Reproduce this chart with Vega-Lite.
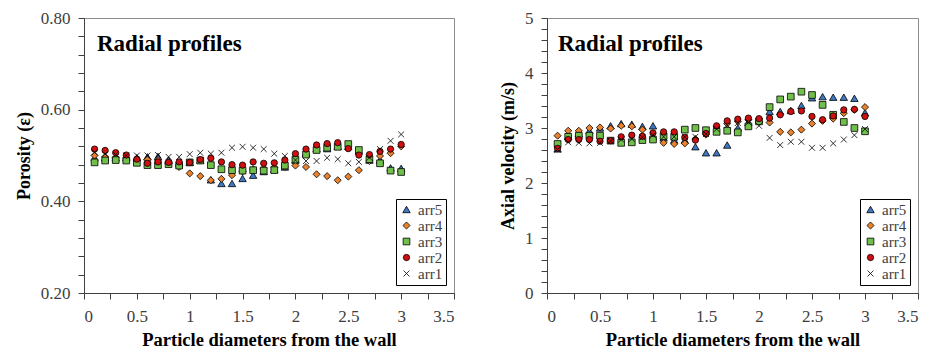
{
"$schema": "https://vega.github.io/schema/vega-lite/v6.json",
"background": "white",
"padding": {"left": 14, "top": 8, "right": 5, "bottom": 5},
"bounds": "flush",
"spacing": 93,
"resolve": {"scale": {"fill": "independent", "shape": "independent", "size": "independent", "strokeWidth": "independent", "stroke": "independent"}, "legend": {"fill": "independent", "shape": "independent", "size": "independent", "strokeWidth": "independent", "stroke": "independent"}},
"datasets": {
"porosity": [
{"x":0.1,"s":"arr5","v":0.495},{"x":0.2,"s":"arr5","v":0.495},{"x":0.3,"s":"arr5","v":0.495},{"x":0.4,"s":"arr5","v":0.495},{"x":0.5,"s":"arr5","v":0.495},{"x":0.6,"s":"arr5","v":0.497},{"x":0.7,"s":"arr5","v":0.498},{"x":0.8,"s":"arr5","v":0.49},{"x":0.9,"s":"arr5","v":0.485},{"x":1.0,"s":"arr5","v":0.485},{"x":1.1,"s":"arr5","v":0.49},{"x":1.2,"s":"arr5","v":0.447},{"x":1.3,"s":"arr5","v":0.439},{"x":1.4,"s":"arr5","v":0.439},{"x":1.5,"s":"arr5","v":0.45},{"x":1.6,"s":"arr5","v":0.457},{"x":1.7,"s":"arr5","v":0.465},{"x":1.8,"s":"arr5","v":0.47},{"x":1.9,"s":"arr5","v":0.475},{"x":2.0,"s":"arr5","v":0.49},{"x":2.1,"s":"arr5","v":0.505},{"x":2.2,"s":"arr5","v":0.515},{"x":2.3,"s":"arr5","v":0.515},{"x":2.4,"s":"arr5","v":0.52},{"x":2.5,"s":"arr5","v":0.52},{"x":2.6,"s":"arr5","v":0.51},{"x":2.7,"s":"arr5","v":0.49},{"x":2.8,"s":"arr5","v":0.49},{"x":2.9,"s":"arr5","v":0.473},{"x":3.0,"s":"arr5","v":0.472},
{"x":0.1,"s":"arr4","v":0.5},{"x":0.2,"s":"arr4","v":0.497},{"x":0.3,"s":"arr4","v":0.495},{"x":0.4,"s":"arr4","v":0.492},{"x":0.5,"s":"arr4","v":0.49},{"x":0.6,"s":"arr4","v":0.491},{"x":0.7,"s":"arr4","v":0.49},{"x":0.8,"s":"arr4","v":0.482},{"x":0.9,"s":"arr4","v":0.475},{"x":1.0,"s":"arr4","v":0.461},{"x":1.1,"s":"arr4","v":0.455},{"x":1.2,"s":"arr4","v":0.446},{"x":1.3,"s":"arr4","v":0.449},{"x":1.4,"s":"arr4","v":0.457},{"x":1.5,"s":"arr4","v":0.465},{"x":1.6,"s":"arr4","v":0.47},{"x":1.7,"s":"arr4","v":0.472},{"x":1.8,"s":"arr4","v":0.474},{"x":1.9,"s":"arr4","v":0.475},{"x":2.0,"s":"arr4","v":0.478},{"x":2.1,"s":"arr4","v":0.475},{"x":2.2,"s":"arr4","v":0.459},{"x":2.3,"s":"arr4","v":0.455},{"x":2.4,"s":"arr4","v":0.446},{"x":2.5,"s":"arr4","v":0.454},{"x":2.6,"s":"arr4","v":0.468},{"x":2.7,"s":"arr4","v":0.488},{"x":2.8,"s":"arr4","v":0.499},{"x":2.9,"s":"arr4","v":0.505},{"x":3.0,"s":"arr4","v":0.52},
{"x":0.1,"s":"arr3","v":0.485},{"x":0.2,"s":"arr3","v":0.489},{"x":0.3,"s":"arr3","v":0.49},{"x":0.4,"s":"arr3","v":0.489},{"x":0.5,"s":"arr3","v":0.484},{"x":0.6,"s":"arr3","v":0.479},{"x":0.7,"s":"arr3","v":0.479},{"x":0.8,"s":"arr3","v":0.481},{"x":0.9,"s":"arr3","v":0.478},{"x":1.0,"s":"arr3","v":0.485},{"x":1.1,"s":"arr3","v":0.489},{"x":1.2,"s":"arr3","v":0.479},{"x":1.3,"s":"arr3","v":0.47},{"x":1.4,"s":"arr3","v":0.468},{"x":1.5,"s":"arr3","v":0.467},{"x":1.6,"s":"arr3","v":0.468},{"x":1.7,"s":"arr3","v":0.467},{"x":1.8,"s":"arr3","v":0.468},{"x":1.9,"s":"arr3","v":0.478},{"x":2.0,"s":"arr3","v":0.491},{"x":2.1,"s":"arr3","v":0.502},{"x":2.2,"s":"arr3","v":0.512},{"x":2.3,"s":"arr3","v":0.517},{"x":2.4,"s":"arr3","v":0.519},{"x":2.5,"s":"arr3","v":0.525},{"x":2.6,"s":"arr3","v":0.512},{"x":2.7,"s":"arr3","v":0.492},{"x":2.8,"s":"arr3","v":0.483},{"x":2.9,"s":"arr3","v":0.467},{"x":3.0,"s":"arr3","v":0.464},
{"x":0.1,"s":"arr2","v":0.514},{"x":0.2,"s":"arr2","v":0.511},{"x":0.3,"s":"arr2","v":0.506},{"x":0.4,"s":"arr2","v":0.501},{"x":0.5,"s":"arr2","v":0.492},{"x":0.6,"s":"arr2","v":0.483},{"x":0.7,"s":"arr2","v":0.486},{"x":0.8,"s":"arr2","v":0.485},{"x":0.9,"s":"arr2","v":0.486},{"x":1.0,"s":"arr2","v":0.485},{"x":1.1,"s":"arr2","v":0.491},{"x":1.2,"s":"arr2","v":0.494},{"x":1.3,"s":"arr2","v":0.486},{"x":1.4,"s":"arr2","v":0.48},{"x":1.5,"s":"arr2","v":0.479},{"x":1.6,"s":"arr2","v":0.486},{"x":1.7,"s":"arr2","v":0.483},{"x":1.8,"s":"arr2","v":0.484},{"x":1.9,"s":"arr2","v":0.49},{"x":2.0,"s":"arr2","v":0.504},{"x":2.1,"s":"arr2","v":0.514},{"x":2.2,"s":"arr2","v":0.523},{"x":2.3,"s":"arr2","v":0.526},{"x":2.4,"s":"arr2","v":0.528},{"x":2.5,"s":"arr2","v":0.515},{"x":2.6,"s":"arr2","v":0.501},{"x":2.7,"s":"arr2","v":0.502},{"x":2.8,"s":"arr2","v":0.509},{"x":2.9,"s":"arr2","v":0.514},{"x":3.0,"s":"arr2","v":0.524},
{"x":0.1,"s":"arr1","v":0.507},{"x":0.2,"s":"arr1","v":0.503},{"x":0.3,"s":"arr1","v":0.502},{"x":0.4,"s":"arr1","v":0.5},{"x":0.5,"s":"arr1","v":0.5},{"x":0.6,"s":"arr1","v":0.5},{"x":0.7,"s":"arr1","v":0.501},{"x":0.8,"s":"arr1","v":0.497},{"x":0.9,"s":"arr1","v":0.497},{"x":1.0,"s":"arr1","v":0.503},{"x":1.1,"s":"arr1","v":0.506},{"x":1.2,"s":"arr1","v":0.504},{"x":1.3,"s":"arr1","v":0.506},{"x":1.4,"s":"arr1","v":0.517},{"x":1.5,"s":"arr1","v":0.519},{"x":1.6,"s":"arr1","v":0.517},{"x":1.7,"s":"arr1","v":0.514},{"x":1.8,"s":"arr1","v":0.504},{"x":1.9,"s":"arr1","v":0.499},{"x":2.0,"s":"arr1","v":0.49},{"x":2.1,"s":"arr1","v":0.488},{"x":2.2,"s":"arr1","v":0.488},{"x":2.3,"s":"arr1","v":0.495},{"x":2.4,"s":"arr1","v":0.492},{"x":2.5,"s":"arr1","v":0.483},{"x":2.6,"s":"arr1","v":0.486},{"x":2.7,"s":"arr1","v":0.495},{"x":2.8,"s":"arr1","v":0.514},{"x":2.9,"s":"arr1","v":0.532},{"x":3.0,"s":"arr1","v":0.546}
],
"velocity": [
{"x":0.1,"s":"arr5","v":2.62},{"x":0.2,"s":"arr5","v":2.85},{"x":0.3,"s":"arr5","v":2.9},{"x":0.4,"s":"arr5","v":2.95},{"x":0.5,"s":"arr5","v":3.0},{"x":0.6,"s":"arr5","v":3.04},{"x":0.7,"s":"arr5","v":3.08},{"x":0.8,"s":"arr5","v":3.07},{"x":0.9,"s":"arr5","v":3.03},{"x":1.0,"s":"arr5","v":3.04},{"x":1.1,"s":"arr5","v":2.82},{"x":1.2,"s":"arr5","v":2.78},{"x":1.3,"s":"arr5","v":2.78},{"x":1.4,"s":"arr5","v":2.66},{"x":1.5,"s":"arr5","v":2.55},{"x":1.6,"s":"arr5","v":2.55},{"x":1.7,"s":"arr5","v":2.69},{"x":1.8,"s":"arr5","v":3.0},{"x":1.9,"s":"arr5","v":3.1},{"x":2.0,"s":"arr5","v":3.15},{"x":2.1,"s":"arr5","v":3.3},{"x":2.2,"s":"arr5","v":3.3},{"x":2.3,"s":"arr5","v":3.32},{"x":2.4,"s":"arr5","v":3.41},{"x":2.5,"s":"arr5","v":3.55},{"x":2.6,"s":"arr5","v":3.57},{"x":2.7,"s":"arr5","v":3.56},{"x":2.8,"s":"arr5","v":3.56},{"x":2.9,"s":"arr5","v":3.54},{"x":3.0,"s":"arr5","v":3.28},
{"x":0.1,"s":"arr4","v":2.86},{"x":0.2,"s":"arr4","v":2.95},{"x":0.3,"s":"arr4","v":2.95},{"x":0.4,"s":"arr4","v":3.0},{"x":0.5,"s":"arr4","v":3.01},{"x":0.6,"s":"arr4","v":2.99},{"x":0.7,"s":"arr4","v":3.04},{"x":0.8,"s":"arr4","v":3.03},{"x":0.9,"s":"arr4","v":2.97},{"x":1.0,"s":"arr4","v":2.8},{"x":1.1,"s":"arr4","v":2.73},{"x":1.2,"s":"arr4","v":2.71},{"x":1.3,"s":"arr4","v":2.72},{"x":1.4,"s":"arr4","v":2.8},{"x":1.5,"s":"arr4","v":2.88},{"x":1.6,"s":"arr4","v":3.02},{"x":1.7,"s":"arr4","v":3.08},{"x":1.8,"s":"arr4","v":3.12},{"x":1.9,"s":"arr4","v":3.15},{"x":2.0,"s":"arr4","v":3.12},{"x":2.1,"s":"arr4","v":3.1},{"x":2.2,"s":"arr4","v":2.93},{"x":2.3,"s":"arr4","v":2.92},{"x":2.4,"s":"arr4","v":2.97},{"x":2.5,"s":"arr4","v":3.08},{"x":2.6,"s":"arr4","v":3.13},{"x":2.7,"s":"arr4","v":3.17},{"x":2.8,"s":"arr4","v":3.27},{"x":2.9,"s":"arr4","v":3.33},{"x":3.0,"s":"arr4","v":3.38},
{"x":0.1,"s":"arr3","v":2.71},{"x":0.2,"s":"arr3","v":2.84},{"x":0.3,"s":"arr3","v":2.86},{"x":0.4,"s":"arr3","v":2.86},{"x":0.5,"s":"arr3","v":2.86},{"x":0.6,"s":"arr3","v":2.77},{"x":0.7,"s":"arr3","v":2.73},{"x":0.8,"s":"arr3","v":2.74},{"x":0.9,"s":"arr3","v":2.78},{"x":1.0,"s":"arr3","v":2.79},{"x":1.1,"s":"arr3","v":2.85},{"x":1.2,"s":"arr3","v":2.84},{"x":1.3,"s":"arr3","v":2.97},{"x":1.4,"s":"arr3","v":3.0},{"x":1.5,"s":"arr3","v":2.96},{"x":1.6,"s":"arr3","v":2.93},{"x":1.7,"s":"arr3","v":2.95},{"x":1.8,"s":"arr3","v":2.92},{"x":1.9,"s":"arr3","v":3.03},{"x":2.0,"s":"arr3","v":3.12},{"x":2.1,"s":"arr3","v":3.38},{"x":2.2,"s":"arr3","v":3.52},{"x":2.3,"s":"arr3","v":3.57},{"x":2.4,"s":"arr3","v":3.66},{"x":2.5,"s":"arr3","v":3.6},{"x":2.6,"s":"arr3","v":3.42},{"x":2.7,"s":"arr3","v":3.24},{"x":2.8,"s":"arr3","v":3.11},{"x":2.9,"s":"arr3","v":3.0},{"x":3.0,"s":"arr3","v":2.94},
{"x":0.1,"s":"arr2","v":2.63},{"x":0.2,"s":"arr2","v":2.79},{"x":0.3,"s":"arr2","v":2.79},{"x":0.4,"s":"arr2","v":2.79},{"x":0.5,"s":"arr2","v":2.76},{"x":0.6,"s":"arr2","v":2.77},{"x":0.7,"s":"arr2","v":2.84},{"x":0.8,"s":"arr2","v":2.87},{"x":0.9,"s":"arr2","v":2.85},{"x":1.0,"s":"arr2","v":2.91},{"x":1.1,"s":"arr2","v":2.93},{"x":1.2,"s":"arr2","v":2.93},{"x":1.3,"s":"arr2","v":2.83},{"x":1.4,"s":"arr2","v":2.78},{"x":1.5,"s":"arr2","v":2.9},{"x":1.6,"s":"arr2","v":3.04},{"x":1.7,"s":"arr2","v":3.13},{"x":1.8,"s":"arr2","v":3.16},{"x":1.9,"s":"arr2","v":3.18},{"x":2.0,"s":"arr2","v":3.17},{"x":2.1,"s":"arr2","v":3.18},{"x":2.2,"s":"arr2","v":3.24},{"x":2.3,"s":"arr2","v":3.3},{"x":2.4,"s":"arr2","v":3.31},{"x":2.5,"s":"arr2","v":3.21},{"x":2.6,"s":"arr2","v":3.15},{"x":2.7,"s":"arr2","v":3.22},{"x":2.8,"s":"arr2","v":3.33},{"x":2.9,"s":"arr2","v":3.34},{"x":3.0,"s":"arr2","v":3.21},
{"x":0.1,"s":"arr1","v":2.61},{"x":0.2,"s":"arr1","v":2.74},{"x":0.3,"s":"arr1","v":2.73},{"x":0.4,"s":"arr1","v":2.72},{"x":0.5,"s":"arr1","v":2.73},{"x":0.6,"s":"arr1","v":2.76},{"x":0.7,"s":"arr1","v":2.79},{"x":0.8,"s":"arr1","v":2.8},{"x":0.9,"s":"arr1","v":2.83},{"x":1.0,"s":"arr1","v":2.87},{"x":1.1,"s":"arr1","v":2.84},{"x":1.2,"s":"arr1","v":2.84},{"x":1.3,"s":"arr1","v":2.84},{"x":1.4,"s":"arr1","v":2.84},{"x":1.5,"s":"arr1","v":2.89},{"x":1.6,"s":"arr1","v":2.98},{"x":1.7,"s":"arr1","v":3.05},{"x":1.8,"s":"arr1","v":3.09},{"x":1.9,"s":"arr1","v":3.1},{"x":2.0,"s":"arr1","v":3.04},{"x":2.1,"s":"arr1","v":2.82},{"x":2.2,"s":"arr1","v":2.69},{"x":2.3,"s":"arr1","v":2.75},{"x":2.4,"s":"arr1","v":2.75},{"x":2.5,"s":"arr1","v":2.64},{"x":2.6,"s":"arr1","v":2.64},{"x":2.7,"s":"arr1","v":2.72},{"x":2.8,"s":"arr1","v":2.79},{"x":2.9,"s":"arr1","v":2.87},{"x":3.0,"s":"arr1","v":2.98}
]
},
"hconcat": [
{
"width": 370, "height": 275,
"title": {"text": "Radial profiles", "anchor": "start", "frame": "group", "orient": "top", "offset": -65, "dx": 13, "baseline": "alphabetic", "fontSize": 23, "font": "Liberation Serif", "fontWeight": "bold", "color": "black"},
"data": {"name": "porosity"},
"mark": {"type": "point", "filled": true, "opacity": 1},
"encoding": {
"x": {"field": "x", "type": "quantitative", "title": "Particle diameters from the wall",
 "scale": {"domain": [0, 3.5], "nice": false},
 "axis": {"values": [0,0.25,0.5,0.75,1,1.25,1.5,1.75,2,2.25,2.5,2.75,3,3.25,3.5], "format": "~g", "labelExpr": "abs(datum.value*2 - round(datum.value*2)) < 0.001 ? datum.label : ''", "labelOverlap": false, "tickColor": "#404040", "domainColor": "#404040", "tickSize": 6, "tickWidth": 1, "labelPadding": 9, "labelFontSize": 17, "titleFontSize": 18.5, "titlePadding": 6}},
"y": {"field": "v", "type": "quantitative", "title": "Porosity (ε)",
 "scale": {"domain": [0.2, 0.8], "nice": false, "zero": false},
 "axis": {"values": [0.2,0.24,0.28,0.32,0.36,0.4,0.44,0.48,0.52,0.56,0.6,0.64,0.68,0.72,0.76,0.8], "format": ".2f", "labelExpr": "abs(datum.value*5 - round(datum.value*5)) < 0.001 ? datum.label : ''", "labelOverlap": false, "tickColor": "#404040", "domainColor": "#404040", "tickSize": 6, "tickWidth": 1, "labelPadding": 8, "labelFontSize": 17, "titleFontSize": 18, "titlePadding": 7}},
"fill": {"field": "s", "type": "nominal", "title": null,
 "scale": {"domain": ["arr5","arr4","arr3","arr2","arr1"], "range": ["#3f78c0","#e8822f","#6fbf4a","#d01010","#000000"]},
 "legend": {"orient": "bottom-right", "offset": 8}},
"shape": {"field": "s", "type": "nominal", "title": null,
 "scale": {"domain": ["arr5","arr4","arr3","arr2","arr1"], "range": ["triangle-up","diamond","square","circle","M-1,-1L1,1M-1,1L1,-1"]},
 "legend": {"orient": "bottom-right", "offset": 8}},
"size": {"field": "s", "type": "nominal", "title": null,
 "scale": {"domain": ["arr5","arr4","arr3","arr2","arr1"], "range": [55,35,60,55,45]},
 "legend": {"orient": "bottom-right", "offset": 8}},
"strokeWidth": {"field": "s", "type": "nominal", "title": null,
 "scale": {"domain": ["arr5","arr4","arr3","arr2","arr1"], "range": [0.8,0.8,0.8,0.8,1.8]},
 "legend": {"orient": "bottom-right", "offset": 8}},
"stroke": {"field": "s", "type": "nominal", "title": null,
 "scale": {"domain": ["arr5","arr4","arr3","arr2","arr1"], "range": ["black","black","black","black","black"]},
 "legend": {"orient": "bottom-right", "offset": 8}}
}
},
{
"width": 371, "height": 275,
"title": {"text": "Radial profiles", "anchor": "start", "frame": "group", "orient": "top", "offset": -65, "dx": 11, "baseline": "alphabetic", "fontSize": 23, "font": "Liberation Serif", "fontWeight": "bold", "color": "black"},
"data": {"name": "velocity"},
"mark": {"type": "point", "filled": true, "opacity": 1},
"encoding": {
"x": {"field": "x", "type": "quantitative", "title": "Particle diameters from the wall",
 "scale": {"domain": [0, 3.5], "nice": false},
 "axis": {"values": [0,0.25,0.5,0.75,1,1.25,1.5,1.75,2,2.25,2.5,2.75,3,3.25,3.5], "format": "~g", "labelExpr": "abs(datum.value*2 - round(datum.value*2)) < 0.001 ? datum.label : ''", "labelOverlap": false, "tickColor": "#404040", "domainColor": "#404040", "tickSize": 6, "tickWidth": 1, "labelPadding": 9, "labelFontSize": 17, "titleFontSize": 18.5, "titlePadding": 6}},
"y": {"field": "v", "type": "quantitative", "title": "Axial velocity (m/s)",
 "scale": {"domain": [0, 5], "nice": false},
 "axis": {"values": [0,0.2,0.4,0.6,0.8,1,1.2,1.4,1.6,1.8,2,2.2,2.4,2.6,2.8,3,3.2,3.4,3.6,3.8,4,4.2,4.4,4.6,4.8,5], "format": "~g", "labelExpr": "abs(datum.value - round(datum.value)) < 0.001 ? datum.label : ''", "labelOverlap": false, "tickColor": "#404040", "domainColor": "#404040", "tickSize": 6, "tickWidth": 1, "labelPadding": 8, "labelFontSize": 17, "titleFontSize": 18, "titlePadding": 7}},
"fill": {"field": "s", "type": "nominal", "title": null,
 "scale": {"domain": ["arr5","arr4","arr3","arr2","arr1"], "range": ["#3f78c0","#e8822f","#6fbf4a","#d01010","#000000"]},
 "legend": {"orient": "bottom-right", "offset": 8}},
"shape": {"field": "s", "type": "nominal", "title": null,
 "scale": {"domain": ["arr5","arr4","arr3","arr2","arr1"], "range": ["triangle-up","diamond","square","circle","M-1,-1L1,1M-1,1L1,-1"]},
 "legend": {"orient": "bottom-right", "offset": 8}},
"size": {"field": "s", "type": "nominal", "title": null,
 "scale": {"domain": ["arr5","arr4","arr3","arr2","arr1"], "range": [55,35,60,55,45]},
 "legend": {"orient": "bottom-right", "offset": 8}},
"strokeWidth": {"field": "s", "type": "nominal", "title": null,
 "scale": {"domain": ["arr5","arr4","arr3","arr2","arr1"], "range": [0.8,0.8,0.8,0.8,1.8]},
 "legend": {"orient": "bottom-right", "offset": 8}},
"stroke": {"field": "s", "type": "nominal", "title": null,
 "scale": {"domain": ["arr5","arr4","arr3","arr2","arr1"], "range": ["black","black","black","black","black"]},
 "legend": {"orient": "bottom-right", "offset": 8}}
}
}
],
"config": {
"font": "Liberation Serif",
"view": {"stroke": "#8c8c8c", "strokeWidth": 1},
"axis": {"grid": false, "labelColor": "#404040", "labelFont": "Liberation Serif", "titleFont": "Liberation Serif", "titleFontWeight": "bold", "titleColor": "black"},
"legend": {"strokeColor": "black", "fillColor": "white", "padding": 3, "labelFont": "Liberation Serif", "labelFontSize": 15, "labelColor": "#404040", "rowPadding": 0, "labelOffset": 4, "cornerRadius": 0}
}
}
